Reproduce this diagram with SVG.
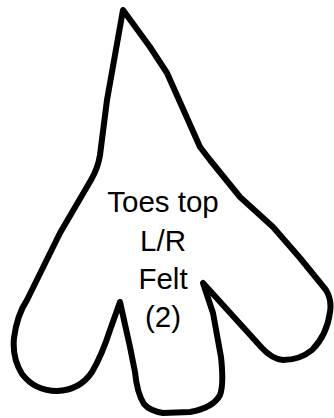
<svg xmlns="http://www.w3.org/2000/svg" width="334" height="418" viewBox="0 0 334 418">
<style>
.outline{fill:#fff;stroke:#000;stroke-width:6;stroke-linejoin:round;stroke-linecap:round}
.lbl{font-family:"Liberation Sans",Arial,sans-serif;font-size:29.5px;fill:#000;text-anchor:middle}
</style>
<rect width="334" height="418" fill="#fff"/>
<g id="toes-shape">
<path class="outline" d="M123,10 L150,47 L167,73 L200,147 L210,160 L240,197 L273,227 L300,258 L326,290 Q332,300 330,312 Q327,335 312,350 Q300,360 283,360 Q272,359 262,348 L203,283 L213,313 L221,357 Q224,385 220,395 Q213,408 190,412 L163,413 Q150,411 144,404 Q137,393 135,372 L130,347 L120,302 L110,330 Q102,355 92,372 Q80,390 57,391 Q35,391 22,374 Q12,358 14,338 Q17,315 27,300 L60,233 L91,180 Q98,168 100,155 L107,100 Z"/>
</g>
<g id="label">
<text class="lbl" x="163" y="212">Toes top</text>
<text class="lbl" x="163" y="251">L/R</text>
<text class="lbl" x="163" y="289">Felt</text>
<text class="lbl" x="163" y="327">(2)</text>
</g>
</svg>
